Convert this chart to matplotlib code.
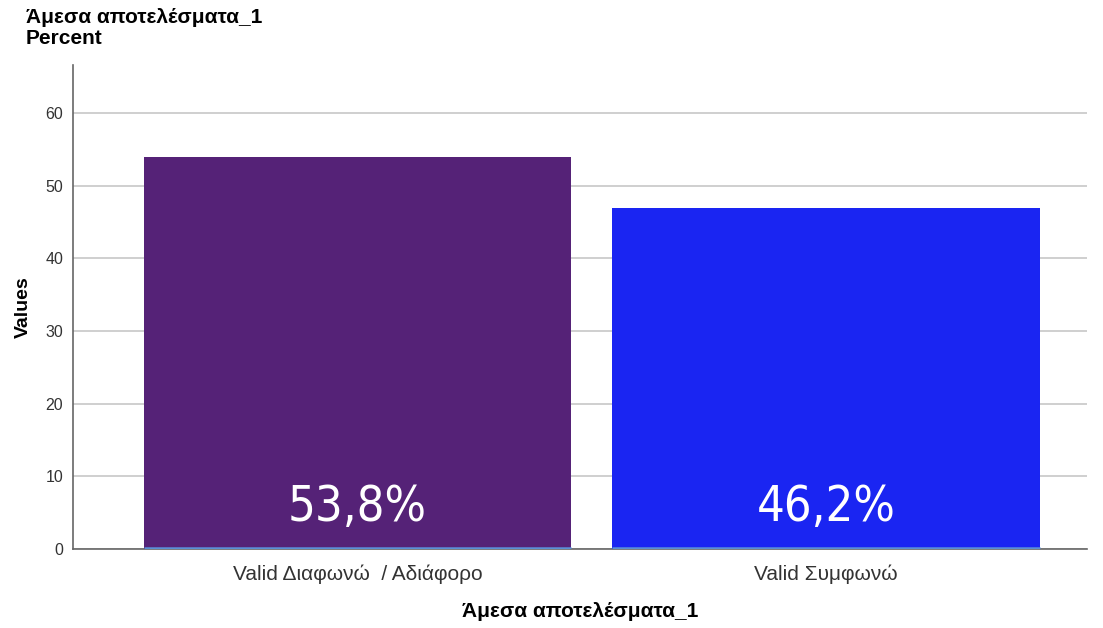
import numpy as np
import matplotlib
matplotlib.use('Agg')
from matplotlib import pyplot as plt

categories = ['Valid Διαφωνώ  / Αδιάφορο', 'Valid Συμφωνώ']
bar_values = [53.9, 46.9]
bar_labels = ['53,8%', '46,2%']
bar_colors = ['#552277', '#1a25f2']
yticks = [0, 10, 20, 30, 40, 50, 60]

plt.rcParams['font.family'] = ['Liberation Sans', 'DejaVu Sans']

fig = plt.figure(figsize=(11.03, 6.28), dpi=100)
ax = fig.add_axes([73 / 1103, 1 - 549 / 628, 1014 / 1103, 484 / 628])

x = np.arange(len(categories))
w = 0.912
ax.bar(x, bar_values, width=w, color=bar_colors, zorder=3)
# thin light-blue line along the bar bottoms
ax.hlines([0.15] * len(x), x - w / 2, x + w / 2, color='#5b8fd6', lw=1.8, zorder=4)

for xi, lab in zip(x, bar_labels):
    ax.text(xi, 5.8, lab, ha='center', va='center', color='white',
            fontsize=35, fontstretch='condensed', family='DejaVu Sans', zorder=5)

ax.set_xlim(-0.607, 1.557)
ax.set_ylim(0, 66.6)
ax.set_yticks(yticks)
ax.set_xticks(x)
ax.set_xticklabels(categories, fontsize=15, color='#333333')
ax.tick_params(axis='y', labelsize=11.5, colors='#333333', length=0, pad=7)
ax.tick_params(axis='x', length=0, pad=11)
ax.yaxis.grid(True, color='#cccccc', lw=1.3, zorder=0)
ax.set_axisbelow(True)

for s in ['top', 'right']:
    ax.spines[s].set_visible(False)
ax.spines['left'].set_color('#666666')
ax.spines['bottom'].set_color('#666666')
ax.spines['left'].set_linewidth(1.2)
ax.spines['bottom'].set_linewidth(1.2)

ax.set_ylabel('Values', fontsize=14, fontweight='bold', labelpad=10)
ax.set_xlabel('Άμεσα αποτελέσματα_1', fontsize=15, fontweight='bold', labelpad=13)

fig.text(26 / 1103, 1 - 8 / 628, 'Άμεσα αποτελέσματα_1\nPercent', ha='left', va='top',
         fontsize=15, fontweight='bold', linespacing=1.1)

fig.savefig('out.png', dpi=100)
